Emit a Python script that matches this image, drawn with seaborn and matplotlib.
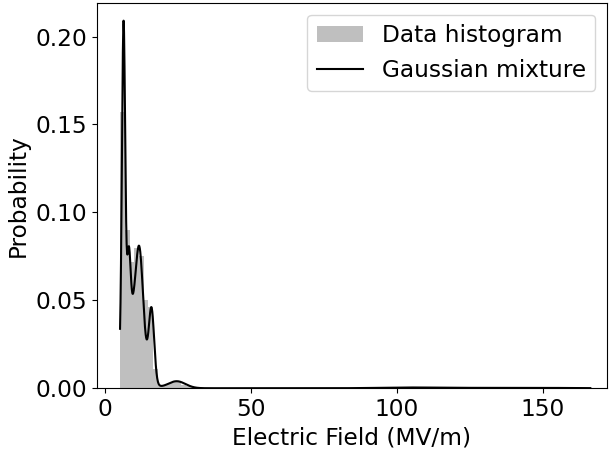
import numpy as np
import pandas as pd
import matplotlib
matplotlib.use("Agg")
import matplotlib.pyplot as plt
import seaborn as sns

# Histogram (density), bin edges and heights
bin_edges = [5.2, 6.8, 8.4, 10.0, 11.6, 13.2, 14.8, 16.4, 18.0, 19.6, 21.2,
             22.8, 24.4, 26.0, 27.6, 29.2, 30.8]
bin_heights = [0.157, 0.090, 0.072, 0.080, 0.075, 0.050, 0.046, 0.011, 0.002,
               0.002, 0.003, 0.004, 0.004, 0.002, 0.001, 0.0005]

# Gaussian mixture components
gm_weights = [0.251, 0.06, 0.14, 0.09, 0.35, 0.03, 0.01, 0.01]
gm_means = [6.3, 8.1, 11.8, 15.9, 9.5, 24.5, 105.0, 140.0]
gm_sigmas = [0.55, 0.6, 1.2, 0.9, 3.2, 3.0, 10.0, 15.0]
x_min, x_max = 5.1, 166.3

plt.rcParams['font.size'] = 16.75

fig, ax = plt.subplots(figsize=(6.1, 4.53), dpi=100)
fig.subplots_adjust(left=0.159, right=0.995, top=0.993, bottom=0.143)

centers = [(a + b) / 2 for a, b in zip(bin_edges[:-1], bin_edges[1:])]
sns.histplot(x=centers, weights=bin_heights, bins=bin_edges, stat='count',
             color='0.75', alpha=1.0, edgecolor='none', linewidth=0,
             label='Data histogram', ax=ax)

xs = np.linspace(x_min, x_max, 2000)
pdf = np.zeros_like(xs)
for w, m, s in zip(gm_weights, gm_means, gm_sigmas):
    pdf += w / (s * np.sqrt(2 * np.pi)) * np.exp(-(xs - m) ** 2 / (2 * s ** 2))
curve = pd.DataFrame({'x': xs, 'pdf': pdf})
sns.lineplot(data=curve, x='x', y='pdf', color='black', linewidth=1.5,
             label='Gaussian mixture', ax=ax)

ax.set_xlabel('Electric Field (MV/m)')
ax.set_ylabel('Probability')
ax.set_yticks([0.0, 0.05, 0.10, 0.15, 0.20])
ax.set_yticklabels(['0.00', '0.05', '0.10', '0.15', '0.20'])
ax.set_xticks([0, 50, 100, 150])
ax.set_xlim(-2.8, 172)
ax.set_ylim(0, 0.219)

handles, labels = ax.get_legend_handles_labels()
order = [labels.index('Data histogram'), labels.index('Gaussian mixture')]
ax.legend([handles[i] for i in order], [labels[i] for i in order],
          loc='upper right')

fig.savefig('out.png', dpi=100)
